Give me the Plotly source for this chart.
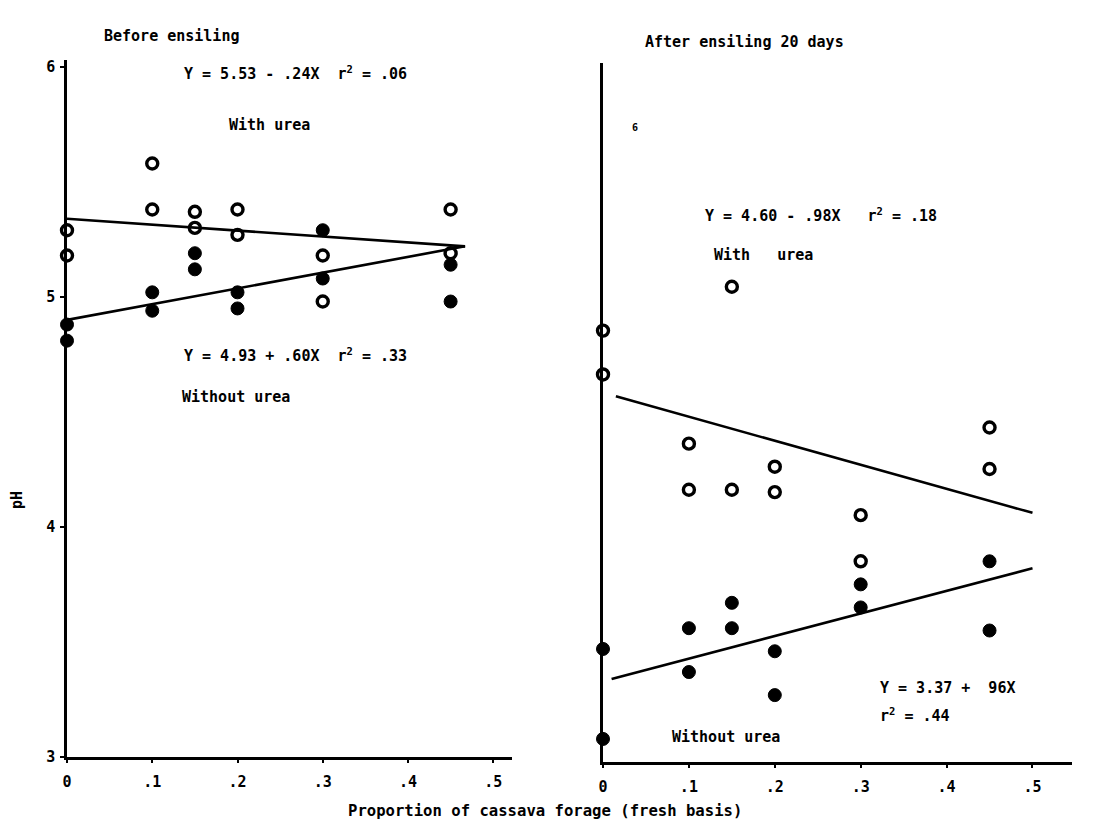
import plotly.graph_objects as go

W, H = 1098, 827
OFF = 8  # page body margin offset

# ---- data ----
x_levels = [0, 0, .1, .1, .15, .15, .2, .2, .3, .3, .45, .45]

before_with_urea = [5.29, 5.18, 5.58, 5.38, 5.37, 5.30, 5.38, 5.27, 5.18, 4.98, 5.38, 5.19]
before_without_urea = [4.88, 4.81, 5.02, 4.94, 5.19, 5.12, 5.02, 4.95, 5.29, 5.08, 5.14, 4.98]

after_with_urea = [4.87, 4.68, 4.38, 4.18, 5.06, 4.18, 4.28, 4.17, 4.07, 3.87, 4.45, 4.27]
after_without_urea = [3.49, 3.10, 3.58, 3.39, 3.69, 3.58, 3.48, 3.29, 3.77, 3.67, 3.87, 3.57]

# regression lines as drawn (end points)
before_with_line_x = [0, 0.467]
before_with_line_y = [5.34, 5.22]
before_without_line_x = [0, 0.467]
before_without_line_y = [4.90, 5.22]
after_with_line_x = [0.015, 0.5]
after_with_line_y = [4.585, 4.08]
after_without_line_x = [0.01, 0.5]
after_without_line_y = [3.36, 3.84]

x_tickvals = [0, .1, .2, .3, .4, .5]
x_ticktext = ["0", ".1", ".2", ".3", ".4", ".5"]
y_tickvals = [3, 4, 5, 6]
y_ticktext = ["3", "4", "5", "6"]

FONT = "DejaVu Sans Mono, Liberation Mono, monospace"

fig = go.Figure()

def add_points(xa, ya, ys, filled):
    fig.add_trace(go.Scatter(
        x=x_levels, y=ys, mode="markers", xaxis=xa, yaxis=ya,
        cliponaxis=False, showlegend=False,
        marker=dict(
            symbol="circle" if filled else "circle-open",
            size=13 if filled else 11,
            color="black",
            line=dict(color="black", width=1 if filled else 3.4),
        ),
    ))

def add_line(xa, ya, xs, ys):
    fig.add_trace(go.Scatter(
        x=xs, y=ys, mode="lines", xaxis=xa, yaxis=ya, cliponaxis=False,
        showlegend=False, line=dict(color="black", width=2.6),
    ))

add_line("x", "y", before_with_line_x, before_with_line_y)
add_line("x", "y", before_without_line_x, before_without_line_y)
add_points("x", "y", before_with_urea, False)
add_points("x", "y", before_without_urea, True)

add_line("x2", "y2", after_with_line_x, after_with_line_y)
add_line("x2", "y2", after_without_line_x, after_without_line_y)
add_points("x2", "y2", after_with_urea, False)
add_points("x2", "y2", after_without_urea, True)

def px(x0, x1):
    return [(x0 - OFF) / W, (x1 - OFF) / W]

def py(top, bottom):
    return [1 - (bottom - OFF) / H, 1 - (top - OFF) / H]

axis_common = dict(showline=True, linecolor="black", linewidth=2.6,
                   showgrid=False, zeroline=False, mirror=False, automargin=False,
                   tickfont=dict(family=FONT, size=15, color="black", weight="bold"))

fig.update_layout(
    width=W, height=H,
    margin=dict(l=0, r=0, t=0, b=0, autoexpand=False),
    paper_bgcolor="white", plot_bgcolor="white",
    xaxis=dict(domain=px(67, 512), range=[0, 0.522], anchor="y",
               tickvals=x_tickvals, ticktext=x_ticktext,
               ticks="outside", ticklen=3, tickwidth=2, tickcolor="black",
               ticklabelstandoff=6,
               **axis_common),
    yaxis=dict(domain=py(60, 757), range=[3, 6.03], anchor="x",
               tickvals=y_tickvals, ticktext=y_ticktext,
               ticks="outside", ticklen=4, tickwidth=2, tickcolor="black",
               ticklabelstandoff=2,
               **axis_common),
    xaxis2=dict(domain=px(603, 1072), range=[0, 0.546], anchor="y2",
                tickvals=x_tickvals, ticktext=x_ticktext,
                ticks="outside", ticklen=3, tickwidth=2, tickcolor="black",
                ticklabelstandoff=6,
                **axis_common),
    yaxis2=dict(domain=py(63, 762), range=[3, 6.03], anchor="x2",
                showticklabels=False, ticks="",
                **axis_common),
)

def note(text, x, y, xanchor="left", size=15, angle=0):
    fig.add_annotation(text=text, x=(x - OFF) / W, y=1 - (y - OFF) / H,
                       xref="paper", yref="paper",
                       xanchor=xanchor, yanchor="middle", showarrow=False,
                       textangle=angle,
                       font=dict(family=FONT, size=size, color="black", weight="bold"))

note("Before ensiling", 102, 36)
note("Y = 5.53 - .24X  r<sup>2</sup> = .06", 182, 73)
note("With urea", 227, 125)
note("Y = 4.93 + .60X  r<sup>2</sup> = .33", 182, 355)
note("Without urea", 180, 397)
note("pH", 17, 500, xanchor="center", angle=-90)

note("After ensiling 20 days", 643, 42)
note("6", 630, 128, size=10)
note("Y = 4.60 - .98X   r<sup>2</sup> = .18", 703, 215)
note("With   urea", 712, 255)
note("Y = 3.37 +  96X", 878, 688)
note("r<sup>2</sup> = .44", 878, 715)
note("Without urea", 670, 737)

note("Proportion of cassava forage (fresh basis)", 545, 811, xanchor="center", size=15.6)

fig.write_html("out.html")
